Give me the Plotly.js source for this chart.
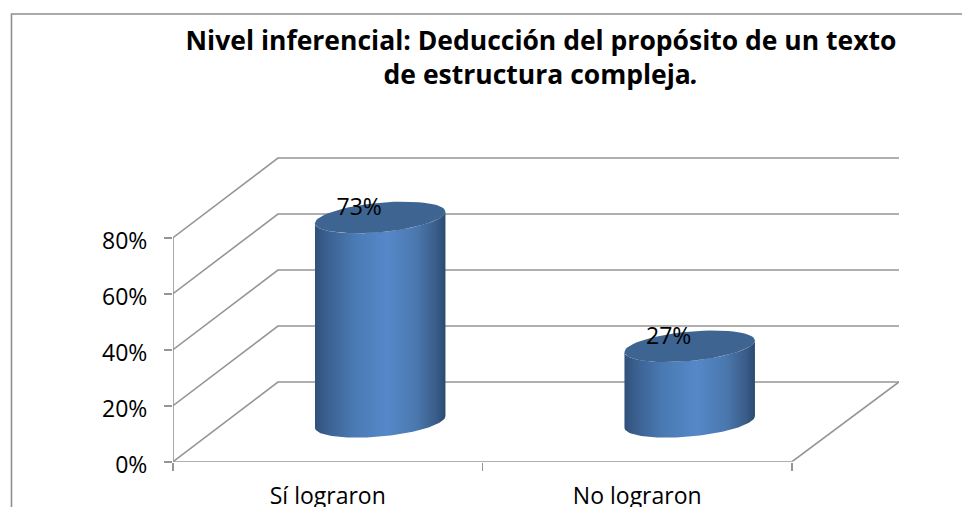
<!DOCTYPE html>
<html>
<head>
<meta charset="utf-8">
<script src="https://cdn.plot.ly/plotly-3.0.1.min.js"></script>
<style>html,body{margin:0;padding:0;background:#fff;overflow:hidden}#chart{width:962px;height:507px}</style>
</head>
<body>
<div id="chart"></div>
<script>
// Data
const categories = ["Sí lograron", "No lograron"];
const values = [73, 27];
const axisTicks = [0, 20, 40, 60, 80];
const titleText = "Nivel inferencial: Deducción del propósito de un texto<br>de estructura compleja<i>.</i>";

// Oblique-projection constants (axis units)
const depthX = 0.339, depthY = 28.46, backEndX = 726 / 309.5;
const radiusX = 0.2108, radiusY = 5.25, shear = 2.07;

const W = 962, H = 507;
const gridColor = "#959595";
const font = "'Open Sans', Lato, sans-serif";
const traces = [];
const gridLine = (x, y) => traces.push({
  type: "scatter", mode: "lines", x, y, cliponaxis: false, hoverinfo: "skip",
  line: {color: gridColor, width: 1.6}
});

// Value-axis line
gridLine([0, 0], [0, axisTicks[axisTicks.length - 1]]);
// Floor
gridLine([0, categories.length, backEndX], [0, 0, depthY]);
// Left wall and back wall gridlines
axisTicks.forEach(v => gridLine([0, depthX, backEndX], [v, v + depthY, v + depthY]));

const arc = (cx, cy, from, to) => {
  const xs = [], ys = [];
  for (let i = 0; i <= 60; i++) {
    const t = from + (to - from) * i / 60;
    xs.push(cx + radiusX * Math.cos(t));
    ys.push(cy + radiusY * Math.sin(t) + shear * Math.cos(t));
  }
  return [xs, ys];
};

values.forEach((v, i) => {
  const cx = i + 0.5 + depthX / 2, cy = depthY / 2;
  const [bx, by] = arc(cx, cy, 0, -Math.PI);
  const [tx, ty] = arc(cx, cy + v, -Math.PI, 0);
  traces.push({
    type: "scatter", mode: "lines", x: bx.concat(tx), y: by.concat(ty),
    fill: "toself", cliponaxis: false, hoverinfo: "skip", line: {width: 0},
    fillgradient: {type: "horizontal", start: cx - radiusX, stop: cx + radiusX, colorscale: [
      [0, "#2f5079"], [0.08, "#3a5f8e"], [0.3, "#4a7ab3"], [0.55, "#5688c9"],
      [0.78, "#4a78ae"], [0.93, "#3a5c88"], [1, "#2a4a72"]
    ]}
  });
  const [ex, ey] = arc(cx, cy + v, 0, 2 * Math.PI);
  traces.push({
    type: "scatter", mode: "lines", x: ex, y: ey,
    fill: "toself", fillcolor: "#3e6592", cliponaxis: false, hoverinfo: "skip", line: {width: 0}
  });
});

// Data labels
traces.push({
  type: "scatter", mode: "text", cliponaxis: false, hoverinfo: "skip",
  x: categories.map((c, i) => i + 0.5 + depthX / 2 - 0.068),
  y: values.map(v => v + depthY / 2 + 3.0),
  text: values.map(v => v + "%"),
  textposition: "middle center",
  textfont: {family: font, size: 23, color: "#000"}
});

const layout = {
  width: W, height: H,
  margin: {l: 0, r: 0, t: 0, b: 0},
  paper_bgcolor: "#fff", plot_bgcolor: "rgba(0,0,0,0)",
  showlegend: false, hovermode: false,
  title: {
    text: titleText, x: 541 / W, xanchor: "center", y: 1 - 50 / H, yanchor: "top",
    font: {family: font, size: 26.5, color: "#000", weight: "bold"}
  },
  xaxis: {
    domain: [173 / W, 899 / W], range: [0, 726 / 309.5], fixedrange: true,
    showgrid: false, zeroline: false, showline: false,
    tickmode: "array", tickvals: categories.map((c, i) => i + 0.5), ticktext: categories,
    ticks: "", ticklabelstandoff: 18,
    tickfont: {family: font, size: 23, color: "#000"},
    minor: {tickmode: "array", tickvals: categories.map((c, i) => i).concat(categories.length),
      ticks: "outside", ticklen: 8, tickwidth: 1.6, tickcolor: gridColor, showgrid: false}
  },
  yaxis: {
    domain: [(H - 461.7) / H, (H - 157.06) / H], range: [0, 304.64 / 2.8], fixedrange: true,
    showgrid: false, zeroline: false, showline: false,
    tickmode: "array", tickvals: axisTicks, ticktext: axisTicks.map(v => v + "%"),
    ticks: "outside", ticklen: 8, tickwidth: 1.6, tickcolor: gridColor,
    ticklabelstandoff: 12, ticklabelshift: 3,
    tickfont: {family: font, size: 23, color: "#000"}
  },
  shapes: [{
    type: "path", xref: "paper", yref: "paper",
    path: `M ${11.5 / W} 0 L ${11.5 / W} ${1 - 14 / H} L 1 ${1 - 14 / H}`,
    line: {color: "#8f8f8f", width: 1.6}
  }]
};

Plotly.newPlot("chart", traces, layout, {displayModeBar: false, staticPlot: true});
</script>
</body>
</html>
